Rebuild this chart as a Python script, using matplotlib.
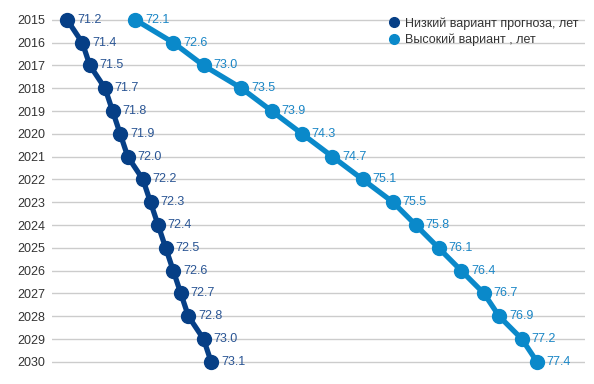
import matplotlib.pyplot as plt
import numpy as np

plt.rcParams['font.family'] = ['Liberation Sans', 'DejaVu Sans']

years = list(range(2015, 2031))
low = [71.2, 71.4, 71.5, 71.7, 71.8, 71.9, 72.0, 72.2, 72.3, 72.4, 72.5, 72.6, 72.7, 72.8, 73.0, 73.1]
high = [72.1, 72.6, 73.0, 73.5, 73.9, 74.3, 74.7, 75.1, 75.5, 75.8, 76.1, 76.4, 76.7, 76.9, 77.2, 77.4]
labels = ['Низкий вариант прогноза, лет', 'Высокий вариант , лет']

c_low = '#063F86'
c_high = '#0A89CA'
t_low = '#2A5594'
t_high = '#1A86C6'

fig = plt.figure(figsize=(5.94, 3.84), dpi=100)
ax = fig.add_axes([0.0875, 0.028, 0.897, 0.95])

for vals, c, tc, lab in [(low, c_low, t_low, labels[0]), (high, c_high, t_high, labels[1])]:
    ax.plot(vals, years, '-o', color=c, lw=3.8, ms=10, label=lab, zorder=3)
    for v, y in zip(vals, years):
        ax.annotate('%.1f' % v, (v, y), xytext=(7, 0), textcoords='offset points',
                    ha='left', va='center', fontsize=9, color=tc, zorder=4)

ax.set_xlim(71.0, 78.03)
ax.set_ylim(2030.5, 2014.5)
ax.set_yticks(years)
ax.set_yticklabels([str(y) for y in years], fontsize=9, color='#333333')
ax.set_xticks([])
ax.tick_params(axis='y', length=0, pad=5)
for s in ax.spines.values():
    s.set_visible(False)
ax.grid(axis='y', color='#cccccc', lw=1)
ax.set_axisbelow(True)

leg = ax.legend(loc='upper left', bbox_to_anchor=(0.618, 1.0), frameon=False, fontsize=9,
                handlelength=0.6, handletextpad=0.6, labelspacing=0.3, borderaxespad=0.3)
for h in leg.legend_handles:
    h.set_linestyle('None')
    h.set_markersize(7)
for t in leg.get_texts():
    t.set_color('#333333')

plt.savefig('out.png', dpi=100)
